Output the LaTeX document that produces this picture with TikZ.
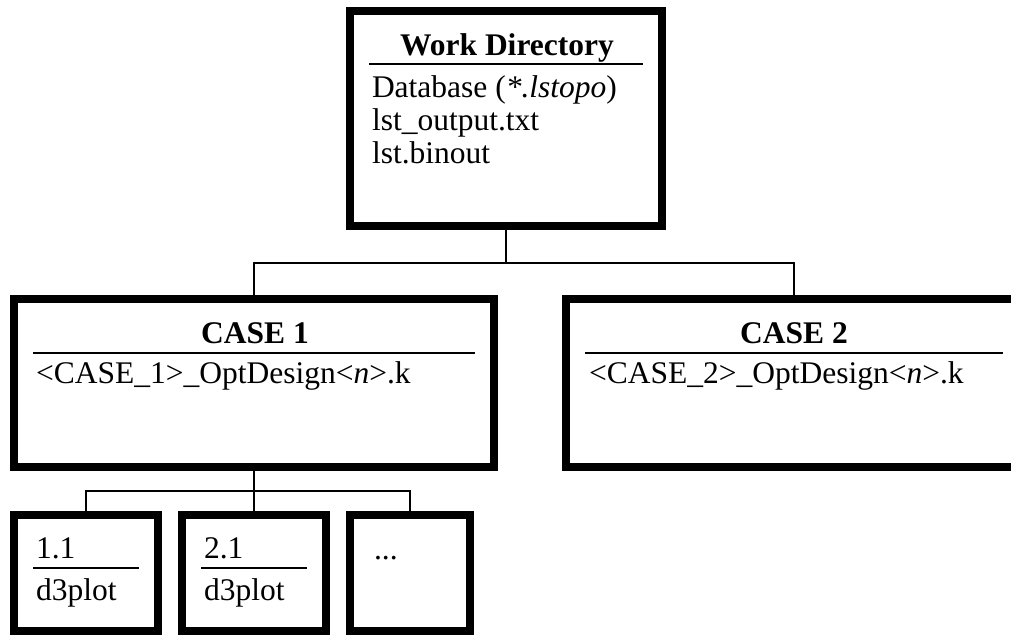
\documentclass[tikz,border=0pt]{standalone}
\usepackage{fontspec}
\setmainfont{Liberation Serif}
\begin{document}
\begin{tikzpicture}[x=1pt,y=-1pt,
  box/.style={draw, rectangle, line width=8pt, inner sep=0pt, outer sep=0pt},
  conn/.style={line width=1.5pt},
  rulel/.style={line width=2pt},
  txt/.style={inner sep=0pt, outer sep=0pt, anchor=base west, font=\fontsize{31.5}{33}\selectfont},
  ttl/.style={inner sep=0pt, outer sep=0pt, anchor=base, font=\fontsize{31.5}{33}\selectfont\bfseries}]
\clip (0,0) rectangle (1011,635);
\fill[white] (0,0) rectangle (1011,635);
% boxes
\node[box, minimum width=312pt, minimum height=215pt] (wd) at (506,118.5) {};
\node[box, minimum width=480pt, minimum height=168pt] (case1) at (254,383) {};
\node[box, minimum width=456pt, minimum height=168pt] (case2) at (794,383) {};
\node[box, minimum width=144pt, minimum height=116pt] (sub1) at (86,573) {};
\node[box, minimum width=144pt, minimum height=116pt] (sub2) at (254,573) {};
\node[box, minimum width=120pt, minimum height=116pt] (sub3) at (410,573) {};
% connectors
\coordinate (j1) at (506,263);
\coordinate (j2) at (254,491);
\draw[conn] (wd.south) -- (j1);
\draw[conn] (j1) -| (case1.north);
\draw[conn] (j1) -| (case2.north);
\draw[conn] (case1.south) -- (sub2.north);
\draw[conn] (j2) -| (sub1.north);
\draw[conn] (j2) -| (sub3.north);
% Work Directory
\node[ttl] (wdt) at (507,55) {Work Directory};
\draw[rulel] (369,64) -- (643,64);
\node[txt] (wd1) at (372,97) {Database (\textit{*.lstopo})};
\node[txt] (wd2) at (372,130) {lst\_output.txt};
\node[txt] (wd3) at (372,163) {lst.binout};
% CASE 1
\node[ttl] (c1t) at (255,343) {CASE 1};
\draw[rulel] (33,353) -- (475,353);
\node[txt] (c1f) at (36,383) {<CASE\_1>\_OptDesign<\textit{n}>.k};
% CASE 2
\node[ttl] (c2t) at (794,343) {CASE 2};
\draw[rulel] (585,353) -- (1003,353);
\node[txt] (c2f) at (589,383) {<CASE\_2>\_OptDesign<\textit{n}>.k};
% sub boxes
\node[txt] (s1a) at (36,558) {1.1};
\draw[rulel] (33,568) -- (139,568);
\node[txt] (s1b) at (36,600) {d3plot};
\node[txt] (s2a) at (204,558) {2.1};
\draw[rulel] (201,568) -- (307,568);
\node[txt] (s2b) at (204,600) {d3plot};
\node[txt] (s3a) at (374,559) {...};
\end{tikzpicture}
\end{document}
